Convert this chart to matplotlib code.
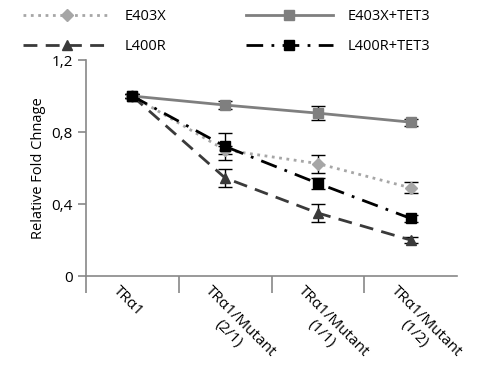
import matplotlib
matplotlib.use("Agg")
import matplotlib.pyplot as plt

plt.rcParams['font.family'] = ['Open Sans', 'DejaVu Sans']

categories = ['TR\u03b11', 'TR\u03b11/Mutant\n(2/1)', 'TR\u03b11/Mutant\n(1/1)', 'TR\u03b11/Mutant\n(1/2)']
e403x = [1.0, 0.70, 0.625, 0.49]
e403x_err = [0.01, 0.02, 0.05, 0.03]
e403x_tet3 = [1.0, 0.95, 0.905, 0.855]
e403x_tet3_err = [0.01, 0.02, 0.04, 0.02]
l400r = [1.0, 0.545, 0.35, 0.20]
l400r_err = [0.01, 0.05, 0.05, 0.015]
l400r_tet3 = [1.0, 0.72, 0.515, 0.32]
l400r_tet3_err = [0.01, 0.075, 0.03, 0.02]

x = list(range(len(categories)))

fig = plt.figure(figsize=(4.91, 3.85), dpi=100)
ax = fig.add_axes([0.175, 0.283, 0.756, 0.561])

ax.errorbar(x, e403x, yerr=e403x_err, color='#a6a6a6', ls=':', lw=2, marker='D',
            ms=6, capsize=5, ecolor='black', elinewidth=1, label='E403X')
ax.errorbar(x, e403x_tet3, yerr=e403x_tet3_err, color='#7f7f7f', ls='-', lw=2, marker='s',
            ms=7.5, capsize=5, ecolor='black', elinewidth=1, label='E403X+TET3')
ax.errorbar(x, l400r, yerr=l400r_err, color='#3a3a3a', ls=(0, (5, 3)), lw=2, marker='^',
            ms=7, capsize=5, ecolor='black', elinewidth=1, label='L400R')
ax.errorbar(x, l400r_tet3, yerr=l400r_tet3_err, color='black', ls=(0, (6, 3, 1, 3)), lw=2, marker='s',
            ms=7.5, capsize=5, ecolor='black', elinewidth=1, label='L400R+TET3')

ax.set_xlim(-0.5, 3.5)
ax.set_ylim(0, 1.2)
ax.set_yticks([0, 0.4, 0.8, 1.2])
ax.set_yticklabels(['0', '0,4', '0,8', '1,2'], fontsize=11)
ax.set_xticks(x)
ax.set_xticklabels([])
# rotated category labels, a little left of each category centre
for xi, cat in zip(x, categories):
    ax.text(xi - 0.13, -0.035, cat, transform=ax.get_xaxis_transform(), rotation=-45,
            ha='left', va='top', rotation_mode='anchor', multialignment='center', fontsize=11)
ax.tick_params(axis='x', length=0)
ax.set_xticks([-0.5, 0.5, 1.5, 2.5], minor=True)
ax.tick_params(axis='x', which='minor', length=12, color='#888888', width=1.2)
ax.tick_params(axis='y', length=6, color='#888888', width=1.2)
for s in ['top', 'right']:
    ax.spines[s].set_visible(False)
for s in ['left', 'bottom']:
    ax.spines[s].set_color('#888888')
    ax.spines[s].set_linewidth(1.2)
ax.set_ylabel('Relative Fold Chnage', fontsize=10.5)

handles, labels = ax.get_legend_handles_labels()
order = [0, 2, 1, 3]
fig.legend([handles[i][0] for i in order], [labels[i] for i in order], ncol=2,
           loc='upper left', bbox_to_anchor=(0.02, 1.01), frameon=False, fontsize=10.5,
           handlelength=6.0, columnspacing=5.4, handletextpad=1.0, labelspacing=1.0)

fig.savefig('out.png', dpi=100)
